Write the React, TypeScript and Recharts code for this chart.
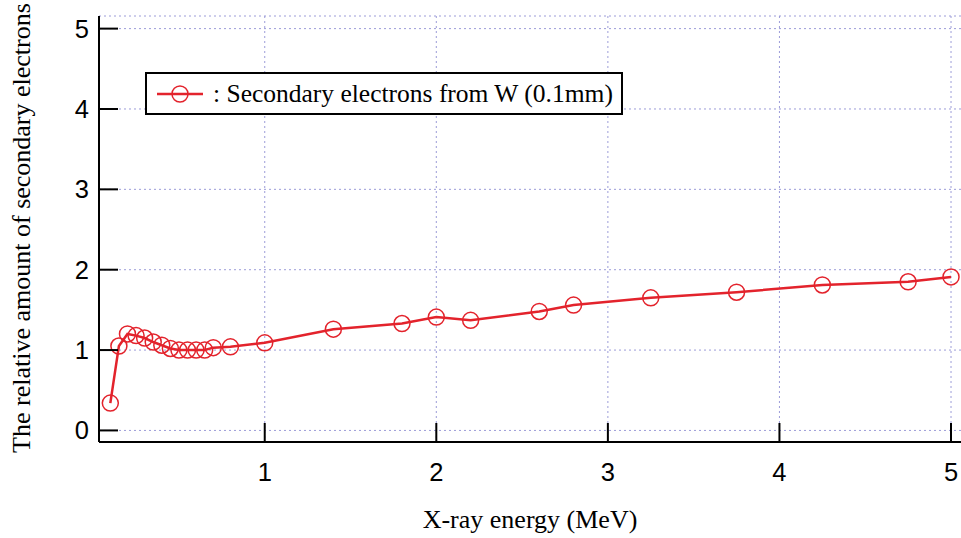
import React from "react";
import {
  LineChart,
  Line,
  XAxis,
  YAxis,
  CartesianGrid,
  Legend,
} from "recharts";

// X-ray energy (MeV)
const energies = [
  0.1, 0.15, 0.2, 0.25, 0.3, 0.35, 0.4, 0.45, 0.5, 0.55, 0.6, 0.65, 0.7, 0.8,
  1.0, 1.4, 1.8, 2.0, 2.2, 2.6, 2.8, 3.25, 3.75, 4.25, 4.75, 5.0,
];
// relative amount of secondary electrons from W (0.1mm)
const secondaryW = [
  0.34, 1.05, 1.2, 1.18, 1.15, 1.1, 1.06, 1.02, 1.0, 1.0, 1.0, 1.0, 1.03, 1.04,
  1.09, 1.26, 1.33, 1.41, 1.37, 1.48, 1.56, 1.65, 1.72, 1.81, 1.85, 1.91,
];
const xTicks = [1, 2, 3, 4, 5];
const yTicks = [0, 1, 2, 3, 4, 5];
const seriesName = ": Secondary electrons from W (0.1mm)";

const data = energies.map((e, i) => ({ energy: e, value: secondaryW[i] }));

const RED = "#e3232c";
const GRID = "#9c9cd8";
const serif = "Liberation Serif";
const sans = "Liberation Sans";
const TICK = 19;

// inward tick marks (gnuplot style), label drawn outside the frame
const BottomTick = (p: any) => (
  <g>
    <line x1={p.x} y1={p.y} x2={p.x} y2={p.y - TICK} stroke="#000" strokeWidth={2} />
    <text x={p.x} y={p.y + 39} textAnchor="middle" fontFamily={sans} fontSize={25.5} fill="#000">
      {p.payload.value}
    </text>
  </g>
);
const LeftTick = (p: any) => (
  <g>
    <line x1={p.x} y1={p.y} x2={p.x + TICK} y2={p.y} stroke="#000" strokeWidth={2} />
    <text x={p.x - 10} y={p.y + 9} textAnchor="end" fontFamily={sans} fontSize={25.5} fill="#000">
      {p.payload.value}
    </text>
  </g>
);
const TopTick = (p: any) => (
  <line x1={p.x} y1={p.y} x2={p.x} y2={p.y + TICK} stroke="#000" strokeWidth={2} />
);
const RightTick = (p: any) => (
  <line x1={p.x} y1={p.y} x2={p.x - TICK} y2={p.y} stroke="#000" strokeWidth={2} />
);

const LegendBox = () => (
  <div
    style={{
      boxSizing: "border-box",
      width: 478,
      height: 43,
      border: "2px solid #000",
      background: "#fff",
      display: "flex",
      alignItems: "center",
    }}
  >
    <svg width={56} height={24} style={{ marginLeft: 10, flex: "none" }}>
      <line x1={0} y1={12} x2={46} y2={12} stroke={RED} strokeWidth={2.5} />
      <circle cx={23} cy={12} r={8} fill="none" stroke={RED} strokeWidth={1.5} />
    </svg>
    <span style={{ fontFamily: serif, fontSize: 25.5, color: "#000", whiteSpace: "nowrap" }}>
      {seriesName}
    </span>
  </div>
);

export default function App() {
  const axisLine = { stroke: "#000", strokeWidth: 2 };
  return (
    <div
      style={{
        position: "absolute",
        left: 0,
        top: 0,
        width: 961,
        height: 538,
        overflow: "hidden",
        background: "#fff",
      }}
    >
      <LineChart
        width={970}
        height={538}
        data={data}
        margin={{ top: 16, right: 8, bottom: 46, left: 39 }}
      >
        <CartesianGrid stroke={GRID} strokeDasharray="2 3" strokeWidth={1} />
        <XAxis
          dataKey="energy"
          type="number"
          domain={[0.034, 5.064]}
          ticks={xTicks}
          allowDataOverflow
          height={50}
          axisLine={axisLine}
          tickLine={false}
          tickSize={0}
          tickMargin={0}
          tick={BottomTick}
        />
        <XAxis
          xAxisId="top"
          orientation="top"
          type="number"
          domain={[0.034, 5.064]}
          ticks={xTicks}
          allowDataOverflow
          height={0}
          axisLine={axisLine}
          tickLine={false}
          tickSize={0}
          tickMargin={0}
          tick={TopTick}
        />
        <YAxis
          type="number"
          domain={[-0.144, 5.157]}
          ticks={yTicks}
          allowDataOverflow
          width={60}
          axisLine={axisLine}
          tickLine={false}
          tickSize={0}
          tickMargin={0}
          tick={LeftTick}
        />
        <YAxis
          yAxisId="right"
          orientation="right"
          type="number"
          domain={[-0.144, 5.157]}
          ticks={yTicks}
          allowDataOverflow
          width={0}
          axisLine={axisLine}
          tickLine={false}
          tickSize={0}
          tickMargin={0}
          tick={RightTick}
        />
        <Legend
          layout="horizontal"
          verticalAlign="middle"
          align="center"
          wrapperStyle={{ left: 145, top: 72, width: 478, height: 43 }}
          content={() => <LegendBox />}
        />
        <Line
          type="linear"
          dataKey="value"
          name={seriesName}
          stroke={RED}
          strokeWidth={2.5}
          dot={{ r: 8, stroke: RED, strokeWidth: 1.5, fill: "none" }}
          activeDot={false}
          isAnimationActive={false}
        />
      </LineChart>
      <div
        style={{
          position: "absolute",
          left: 22,
          top: 228,
          transform: "translate(-50%, -50%) rotate(-90deg)",
          fontFamily: serif,
          fontSize: 26,
          whiteSpace: "nowrap",
          color: "#000",
        }}
      >
        The relative amount of secondary electrons
      </div>
      <div
        style={{
          position: "absolute",
          left: 530,
          top: 520,
          transform: "translate(-50%, -50%)",
          fontFamily: serif,
          fontSize: 26,
          whiteSpace: "nowrap",
          color: "#000",
        }}
      >
        X-ray energy (MeV)
      </div>
    </div>
  );
}
